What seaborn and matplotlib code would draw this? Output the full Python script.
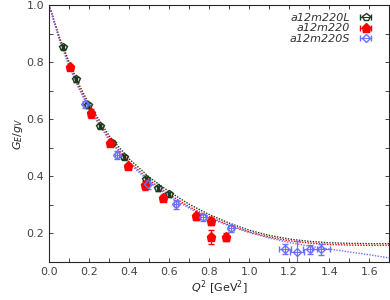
import numpy as np
import pandas as pd
import matplotlib
matplotlib.use("Agg")
import matplotlib.pyplot as plt
import seaborn as sns
from matplotlib.ticker import MultipleLocator
from matplotlib.legend_handler import HandlerErrorbar

# data points
q2_L = [0.07, 0.135, 0.195, 0.255, 0.315, 0.375, 0.485, 0.545, 0.60]
ge_L = [0.853, 0.740, 0.649, 0.577, 0.518, 0.467, 0.389, 0.358, 0.337]
err_L = [0.008, 0.008, 0.008, 0.008, 0.008, 0.008, 0.008, 0.008, 0.008]

q2_M = [0.105, 0.21, 0.305, 0.395, 0.48, 0.57, 0.735, 0.81, 0.81, 0.885]
ge_M = [0.782, 0.621, 0.516, 0.435, 0.368, 0.325, 0.260, 0.242, 0.188, 0.188]
err_M = [0.008, 0.015, 0.008, 0.008, 0.015, 0.010, 0.012, 0.012, 0.025, 0.015]

q2_S = [0.18, 0.34, 0.495, 0.635, 0.77, 0.91, 1.18, 1.24, 1.305, 1.36]
ge_S = [0.653, 0.474, 0.372, 0.302, 0.256, 0.218, 0.144, 0.134, 0.144, 0.144]
err_S = [0.012, 0.015, 0.015, 0.015, 0.012, 0.012, 0.018, 0.040, 0.015, 0.020]
xerr_S = [0.01, 0.01, 0.01, 0.01, 0.015, 0.015, 0.03, 0.035, 0.035, 0.045]

# fit curves
q2_fit = [0.0, 0.05, 0.1, 0.15, 0.2, 0.3, 0.4, 0.5, 0.6, 0.7, 0.8, 0.9,
          1.0, 1.1, 1.2, 1.3, 1.4, 1.5, 1.6, 1.7]
fit_L = [1.0, 0.89, 0.80, 0.72, 0.652, 0.542, 0.461, 0.397, 0.346, 0.302, 0.266, 0.236,
         0.211, 0.193, 0.180, 0.172, 0.167, 0.165, 0.164, 0.164]
fit_M = [1.0, 0.885, 0.79, 0.71, 0.642, 0.532, 0.451, 0.387, 0.336, 0.293, 0.258, 0.229,
         0.205, 0.187, 0.174, 0.166, 0.161, 0.159, 0.158, 0.158]
fit_S = [1.0, 0.88, 0.785, 0.705, 0.636, 0.526, 0.446, 0.381, 0.330, 0.288, 0.254, 0.226,
         0.203, 0.184, 0.168, 0.155, 0.145, 0.135, 0.125, 0.114]

c_L = "#1c3a1c"
c_M = "#ff0000"
c_S = "#6f6fff"

sns.set_style("ticks")
plt.rcParams["font.family"] = ["DejaVu Sans"]
plt.rcParams["mathtext.fontset"] = "dejavusans"

fig = plt.figure(figsize=(3.9, 3.0), dpi=100)
ax = fig.add_axes([0.126, 0.127, 0.872, 0.856])

fits = pd.DataFrame({"q2": q2_fit, "L": fit_L, "M": fit_M, "S": fit_S})
for col, c in [("L", c_L), ("M", c_M), ("S", c_S)]:
    sns.lineplot(data=fits, x="q2", y=col, ax=ax, color=c, linestyle=(0, (1, 1)),
                 linewidth=1.0, legend=False)

eL = ax.errorbar(q2_L, ge_L, yerr=err_L, xerr=0.005, fmt="p", color=c_L, mfc="none",
                 mec=c_L, ms=6, mew=1.0, capsize=2, elinewidth=0.8, label="a12m220L")
eM = ax.errorbar(q2_M, ge_M, yerr=err_M, xerr=0.005, fmt="p", color=c_M, mfc=c_M,
                 mec=c_M, ms=6.5, capsize=2, elinewidth=0.8, label="a12m220")
eS = ax.errorbar(q2_S, ge_S, yerr=err_S, xerr=xerr_S, fmt="D", color=c_S, mfc="none",
                 mec=c_S, ms=4.5, mew=1.0, capsize=2, elinewidth=0.8, label="a12m220S")

ax.set_xlim(0, 1.7)
ax.set_ylim(0.1, 1.0)
ax.xaxis.set_major_locator(MultipleLocator(0.2))
ax.xaxis.set_minor_locator(MultipleLocator(0.1))
ax.yaxis.set_minor_locator(MultipleLocator(0.1))
ax.set_yticks([0.2, 0.4, 0.6, 0.8, 1.0])
ax.tick_params(which="both", direction="in", top=True, right=True, labelsize=8,
               labelcolor="#444444", length=3, width=0.6)
for s in ax.spines.values():
    s.set_linewidth(0.8)

ax.set_xlabel(r"$Q^2$ [GeV$^2$]", fontsize=8, labelpad=1)
ax.set_ylabel(r"$G_E/g_V$", fontsize=8, labelpad=1)

# legend shows only horizontal bars, like gnuplot
for e in (eL, eM, eS):
    e.has_yerr = False
leg = ax.legend(loc="upper right", markerfirst=False, frameon=False, fontsize=8,
                handlelength=1.6, handletextpad=0.6, labelspacing=0.05,
                borderaxespad=0.3, bbox_to_anchor=(0.98, 1.0),
                handler_map={type(eL): HandlerErrorbar(xerr_size=0.5)})
for t in leg.get_texts():
    t.set_fontstyle("italic")
    t.set_color("#333333")

fig.savefig("out.png", dpi=100)
